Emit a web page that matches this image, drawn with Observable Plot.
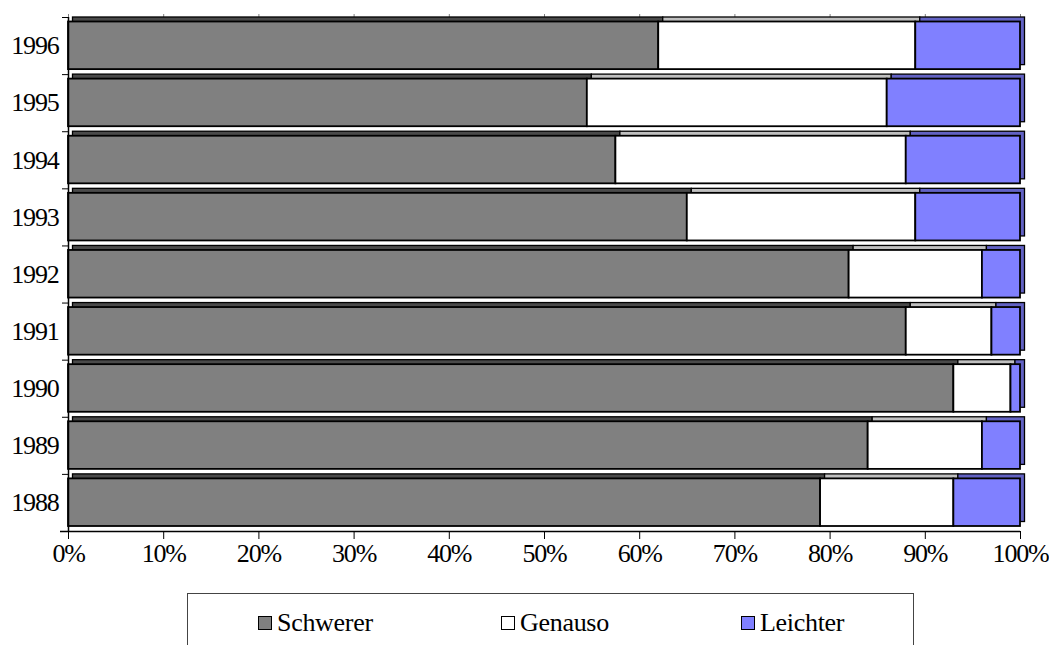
<!DOCTYPE html>
<html>
<head>
<meta charset="utf-8">
<script src="https://cdn.jsdelivr.net/npm/d3@7"></script>
<script src="https://cdn.jsdelivr.net/npm/@observablehq/plot@0.6"></script>
<style>
  body { margin: 0; background: #fff; font-family: "Liberation Serif", "Times New Roman", serif; }
  #chart svg { display: block; }
  #chart svg text { font-family: "Liberation Serif", serif; font-size: 26px; letter-spacing: -1.2px; }
  #legend {
    position: absolute; left: 187px; top: 593px; width: 725px; height: 60px;
    border: 1px solid #444; border-bottom: none; background: #fff;
    font-family: "Liberation Serif", serif; font-size: 26px; letter-spacing: -0.3px; color: #000;
  }
  .item { position: absolute; top: 14px; display: flex; align-items: center; }
  .sw { width: 12px; height: 12px; border: 1.5px solid #000; margin-right: 5px; }
</style>
</head>
<body>
<div id="chart"></div>
<div id="legend"></div>
<script>
const years = ["1988", "1989", "1990", "1991", "1992", "1993", "1994", "1995", "1996"];
const categories = ["Schwerer", "Genauso", "Leichter"];
const schwerer = [79, 84, 93, 88, 82, 65, 57.5, 54.5, 62];
const genauso  = [14, 12, 6, 9, 14, 24, 30.5, 31.5, 27];
const leichter = [7, 4, 1, 3, 4, 11, 12, 14, 11];
const xTicks = [0, 10, 20, 30, 40, 50, 60, 70, 80, 90, 100];

const frontColors = ["#808080", "#ffffff", "#8080ff"];
const topColors = ["#4a4a4a", "#c0c0c0", "#6262c4"];

const series = [schwerer, genauso, leichter];
const rows = [];
years.forEach((yr, i) => {
  let acc = 0;
  series.forEach((s, k) => {
    rows.push({year: yr, i, cat: categories[k], x1: acc, x2: acc + s[i], k});
    acc += s[i];
  });
});

const serif = "Liberation Serif";
const chart = Plot.plot({
  width: 1049,
  height: 590,
  marginLeft: 68,
  marginRight: 29,
  marginTop: 17,
  marginBottom: 59,
  style: {fontFamily: serif, fontSize: "26px", color: "#000", background: "#fff"},
  x: {domain: [0, 100], label: null},
  y: {domain: [0, 9], label: null},
  marks: [
    // back-plane tick stubs at top
    Plot.axisX({anchor: "top", ticks: xTicks, tickSize: 4, tickFormat: () => "", stroke: "#808080", label: null}),
    // depth faces (top and right)
    Plot.rect(rows, {
      x1: "x1", x2: "x2", y1: "i", y2: d => d.i + 1,
      insetTop: 4.5, insetBottom: 5, dx: 4.5, dy: -4.5,
      fill: d => topColors[d.k], stroke: "#000", strokeWidth: 1.3
    }),
    // front faces
    Plot.rect(rows, {
      x1: "x1", x2: "x2", y1: "i", y2: d => d.i + 1,
      insetTop: 4.5, insetBottom: 5,
      fill: d => frontColors[d.k], stroke: "#000", strokeWidth: 1.8
    }),
    // axes
    Plot.ruleX([0], {stroke: "#000", strokeWidth: 1.5}),
    Plot.ruleY([0], {stroke: "#000", strokeWidth: 1.5, insetLeft: -8}),
    Plot.axisY({ticks: d3.range(0, 10), tickSize: 6, tickFormat: () => "", stroke: "#000", label: null}),
    Plot.axisY({ticks: d3.range(0, 9).map(i => i + 0.5), tickSize: 0, tickPadding: 10,
      tickFormat: v => years[Math.floor(v)], fill: "#000", label: null}),
    Plot.axisX({ticks: xTicks, tickSize: 8, tickPadding: 4, tickFormat: d => d + "%",
      fill: "#000", stroke: "#000", label: null})
  ]
});
document.getElementById("chart").append(chart);

const legend = document.getElementById("legend");
const lefts = [70, 313, 553];
categories.forEach((c, k) => {
  const it = document.createElement("div");
  it.className = "item";
  it.style.left = lefts[k] + "px";
  const sw = document.createElement("div");
  sw.className = "sw";
  sw.style.background = frontColors[k];
  const t = document.createElement("span");
  t.textContent = c;
  it.append(sw, t);
  legend.append(it);
});
</script>
</body>
</html>
